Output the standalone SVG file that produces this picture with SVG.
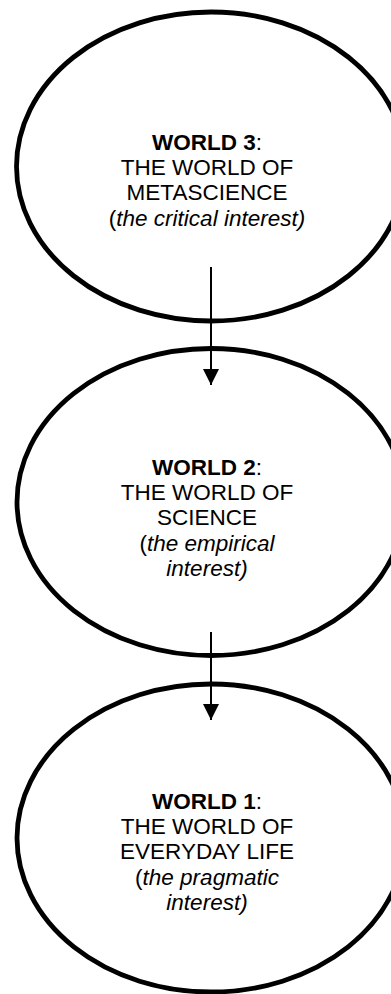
<svg xmlns="http://www.w3.org/2000/svg" width="391" height="994" viewBox="0 0 391 994">
<style>
.node ellipse{fill:#fff;stroke:#000;stroke-width:4.8}
.t{font-family:"Liberation Sans",Arial,sans-serif;font-size:22.5px;fill:#000;text-anchor:middle}
.b{font-weight:bold}
.i{font-style:italic}
.conn line{stroke:#000;stroke-width:2}
</style>
<defs>
<marker id="ah" markerWidth="8" markerHeight="8" refX="8" refY="4" orient="auto" markerUnits="strokeWidth">
<path d="M0,0 L8,4 L0,8 Z" fill="#000"/>
</marker>
</defs>
<g id="world3" class="node">
<ellipse cx="211" cy="166.5" rx="194.5" ry="154.5"/>
<text class="t" x="207" y="150"><tspan class="b">WORLD 3</tspan>:</text>
<text class="t" x="207" y="175.2">THE WORLD OF</text>
<text class="t" x="207" y="200.4">METASCIENCE</text>
<text class="t" x="207" y="225.6">(<tspan class="i">the critical interest)</tspan></text>
</g>
<g id="world2" class="node">
<ellipse cx="211" cy="502" rx="194" ry="153.5"/>
<text class="t" x="207" y="475"><tspan class="b">WORLD 2</tspan>:</text>
<text class="t" x="207" y="500.2">THE WORLD OF</text>
<text class="t" x="207" y="525.4">SCIENCE</text>
<text class="t" x="207" y="550.6">(<tspan class="i">the empirical</tspan></text>
<text class="t i" x="207" y="575.8">interest)</text>
</g>
<g id="world1" class="node">
<ellipse cx="211" cy="838" rx="194" ry="154"/>
<text class="t" x="207" y="809"><tspan class="b">WORLD 1</tspan>:</text>
<text class="t" x="207" y="834.2">THE WORLD OF</text>
<text class="t" x="207" y="859.4">EVERYDAY LIFE</text>
<text class="t" x="207" y="884.6">(<tspan class="i">the pragmatic</tspan></text>
<text class="t i" x="207" y="909.8">interest)</text>
</g>
<g id="connectors" class="conn">
<line x1="211" y1="267" x2="211" y2="385" marker-end="url(#ah)"/>
<line x1="211" y1="632" x2="211" y2="720" marker-end="url(#ah)"/>
</g>
</svg>
